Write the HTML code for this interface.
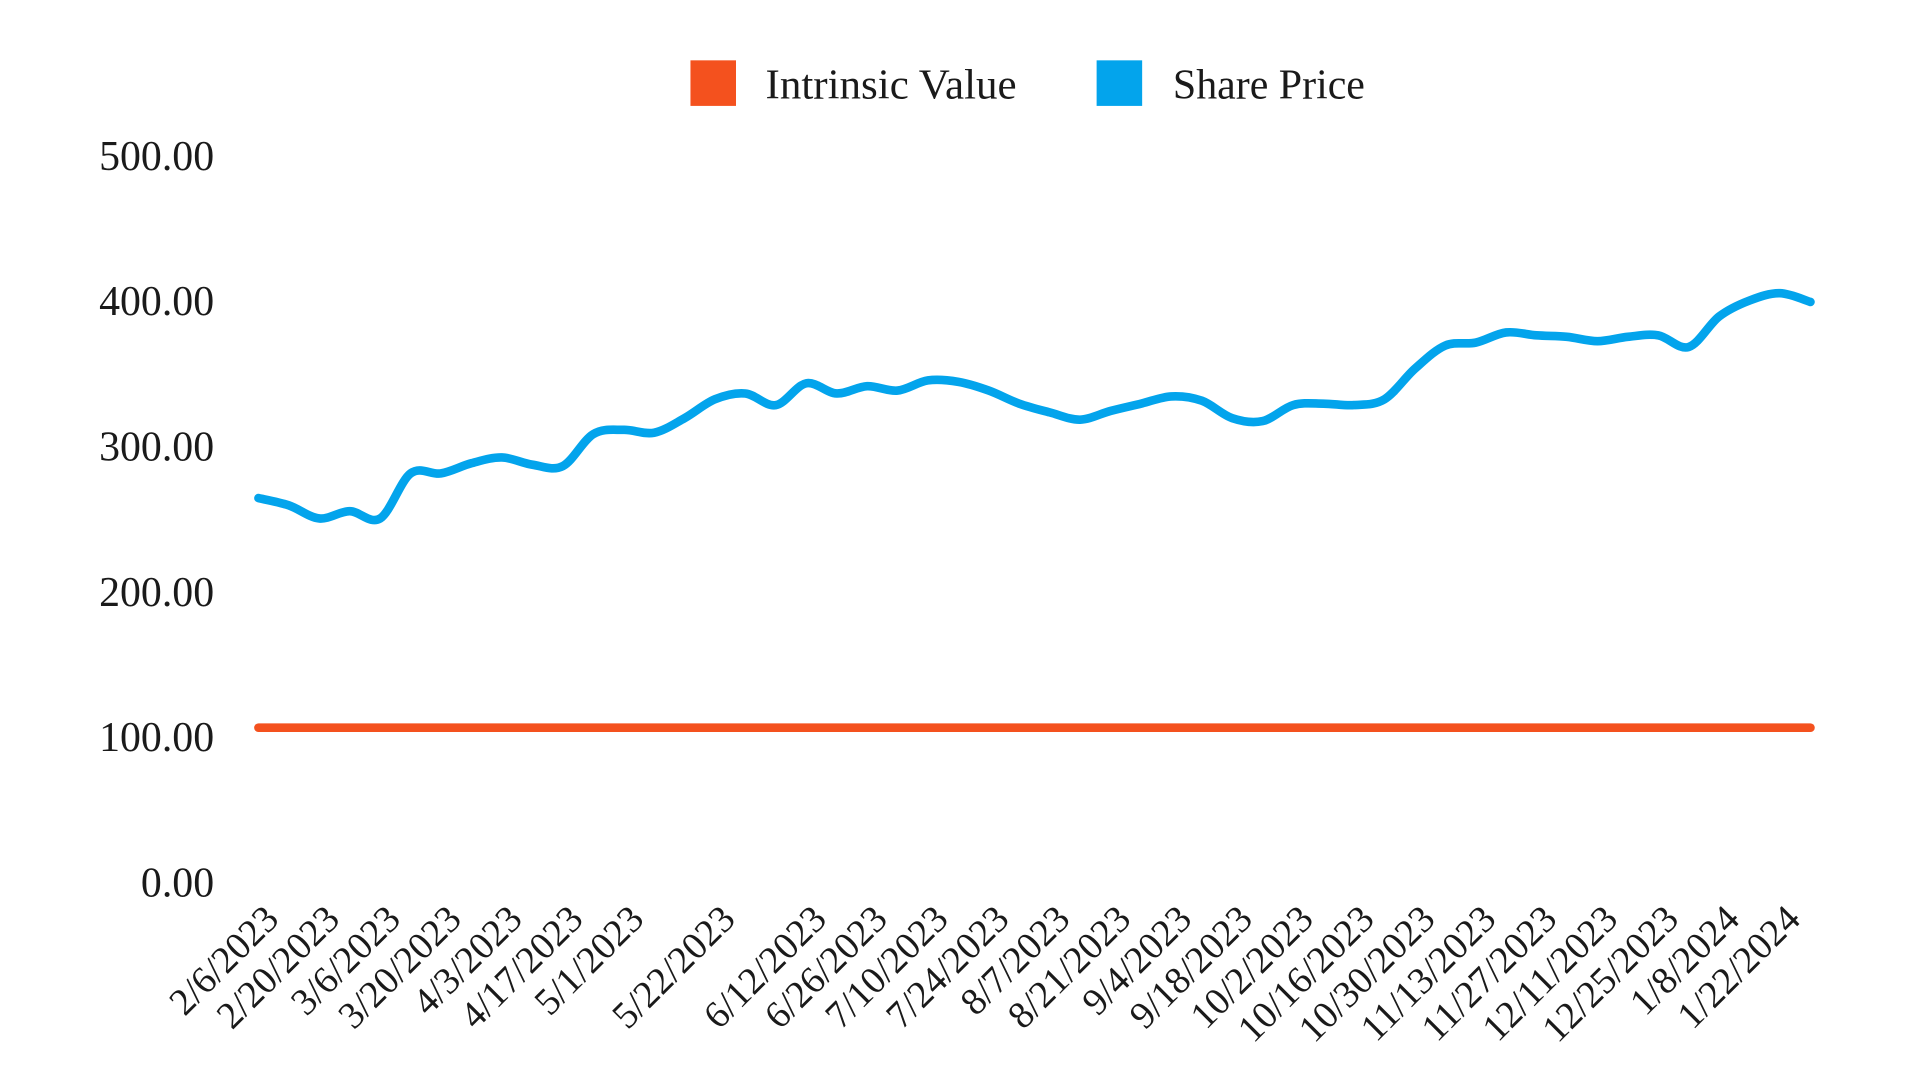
<!DOCTYPE html>
<html><head><meta charset="utf-8"><style>
html,body{margin:0;padding:0;background:#fff;width:1920px;height:1080px;overflow:hidden}
svg{display:block}
text{font-family:"Liberation Serif",serif;fill:#1a1a1a}
</style></head><body>
<svg id="chart" width="1920" height="1080" viewBox="0 0 1560 877" preserveAspectRatio="none" xmlns="http://www.w3.org/2000/svg">
<g>
<rect x="561" y="49" width="37" height="37" fill="#F4511E"/>
<text x="622" y="80" font-size="34" textLength="204" lengthAdjust="spacingAndGlyphs">Intrinsic Value</text>
<rect x="891" y="49" width="37" height="37" fill="#03A4EC"/>
<text x="953" y="80" font-size="34" textLength="156" lengthAdjust="spacingAndGlyphs">Share Price</text>
</g>
<g id="yaxis"></g>
<g id="xaxis"></g>
<g id="series"></g>
</svg>
<script>
const yTicks = [0, 100, 200, 300, 400, 500];
const startDate = [2023, 1, 6]; // Feb 6 2023, weekly
const sharePrice = [264,259,250,255,250,281,281,288,292,287,286,308,311,309,319,332,336,328,343,336,341,338,345,344,338,329,323,318,324,329,334,331,319,317,328,329,328,332,353,369,371,378,376,375,372,375,376,368,389,400,405,399];
const intrinsicValue = 106;
const xLabels = ["2/6/2023","2/20/2023","3/6/2023","3/20/2023","4/3/2023","4/17/2023","5/1/2023","5/22/2023","6/12/2023","6/26/2023","7/10/2023","7/24/2023","8/7/2023","8/21/2023","9/4/2023","9/18/2023","10/2/2023","10/16/2023","10/30/2023","11/13/2023","11/27/2023","12/11/2023","12/25/2023","1/8/2024","1/22/2024"];

const NS="http://www.w3.org/2000/svg";
const n = sharePrice.length;
const x0=210, x1=1471, yBase=716, yPer=1.18;
const xs = i => x0 + (x1-x0)*i/(n-1);
const ys = v => yBase - v*yPer;
const dates=[];
for(let i=0;i<n;i++){const d=new Date(startDate[0],startDate[1],startDate[2]+7*i);dates.push((d.getMonth()+1)+"/"+d.getDate()+"/"+d.getFullYear());}

const ya=document.getElementById('yaxis');
yTicks.forEach(t=>{
  const el=document.createElementNS(NS,'text');
  
  
  el.setAttribute('x',174);el.setAttribute('y',ys(t)+12);
  el.setAttribute('text-anchor','end');el.setAttribute('font-size','34');
  el.textContent=t.toFixed(2);ya.appendChild(el);
});
const xa=document.getElementById('xaxis');
xLabels.forEach(l=>{
  const i=dates.indexOf(l); if(i<0) return;
  const x=xs(i)+18, y=748;
  const el=document.createElementNS(NS,'text');
  
  
  el.setAttribute('x',x);el.setAttribute('y',y);
  el.setAttribute('text-anchor','end');el.setAttribute('font-size','31');
  el.setAttribute('transform','rotate(-45 '+x+' '+y+')');
  el.textContent=l;xa.appendChild(el);
});
const sg=document.getElementById('series');
const iv=document.createElementNS(NS,'line');


iv.setAttribute('x1',xs(0));iv.setAttribute('x2',xs(n-1));
iv.setAttribute('y1',ys(intrinsicValue));iv.setAttribute('y2',ys(intrinsicValue));
iv.setAttribute('stroke','#F4511E');iv.setAttribute('stroke-width','7');iv.setAttribute('stroke-linecap','round');
sg.appendChild(iv);
const P=sharePrice.map((v,i)=>[xs(i),ys(v)]);
let d='M'+P[0][0]+' '+P[0][1];
for(let i=0;i<n-1;i++){
  const p0=P[Math.max(i-1,0)],p1=P[i],p2=P[i+1],p3=P[Math.min(i+2,n-1)];
  const c1=[p1[0]+(p2[0]-p0[0])/6,p1[1]+(p2[1]-p0[1])/6];
  const c2=[p2[0]-(p3[0]-p1[0])/6,p2[1]-(p3[1]-p1[1])/6];
  d+=' C'+c1.join(' ')+' '+c2.join(' ')+' '+p2.join(' ');
}
const sp=document.createElementNS(NS,'path');


sp.setAttribute('d',d);sp.setAttribute('fill','none');sp.setAttribute('stroke','#03A4EC');
sp.setAttribute('stroke-width','7');sp.setAttribute('stroke-linecap','round');sp.setAttribute('stroke-linejoin','round');
sg.appendChild(sp);
</script>
</body></html>
